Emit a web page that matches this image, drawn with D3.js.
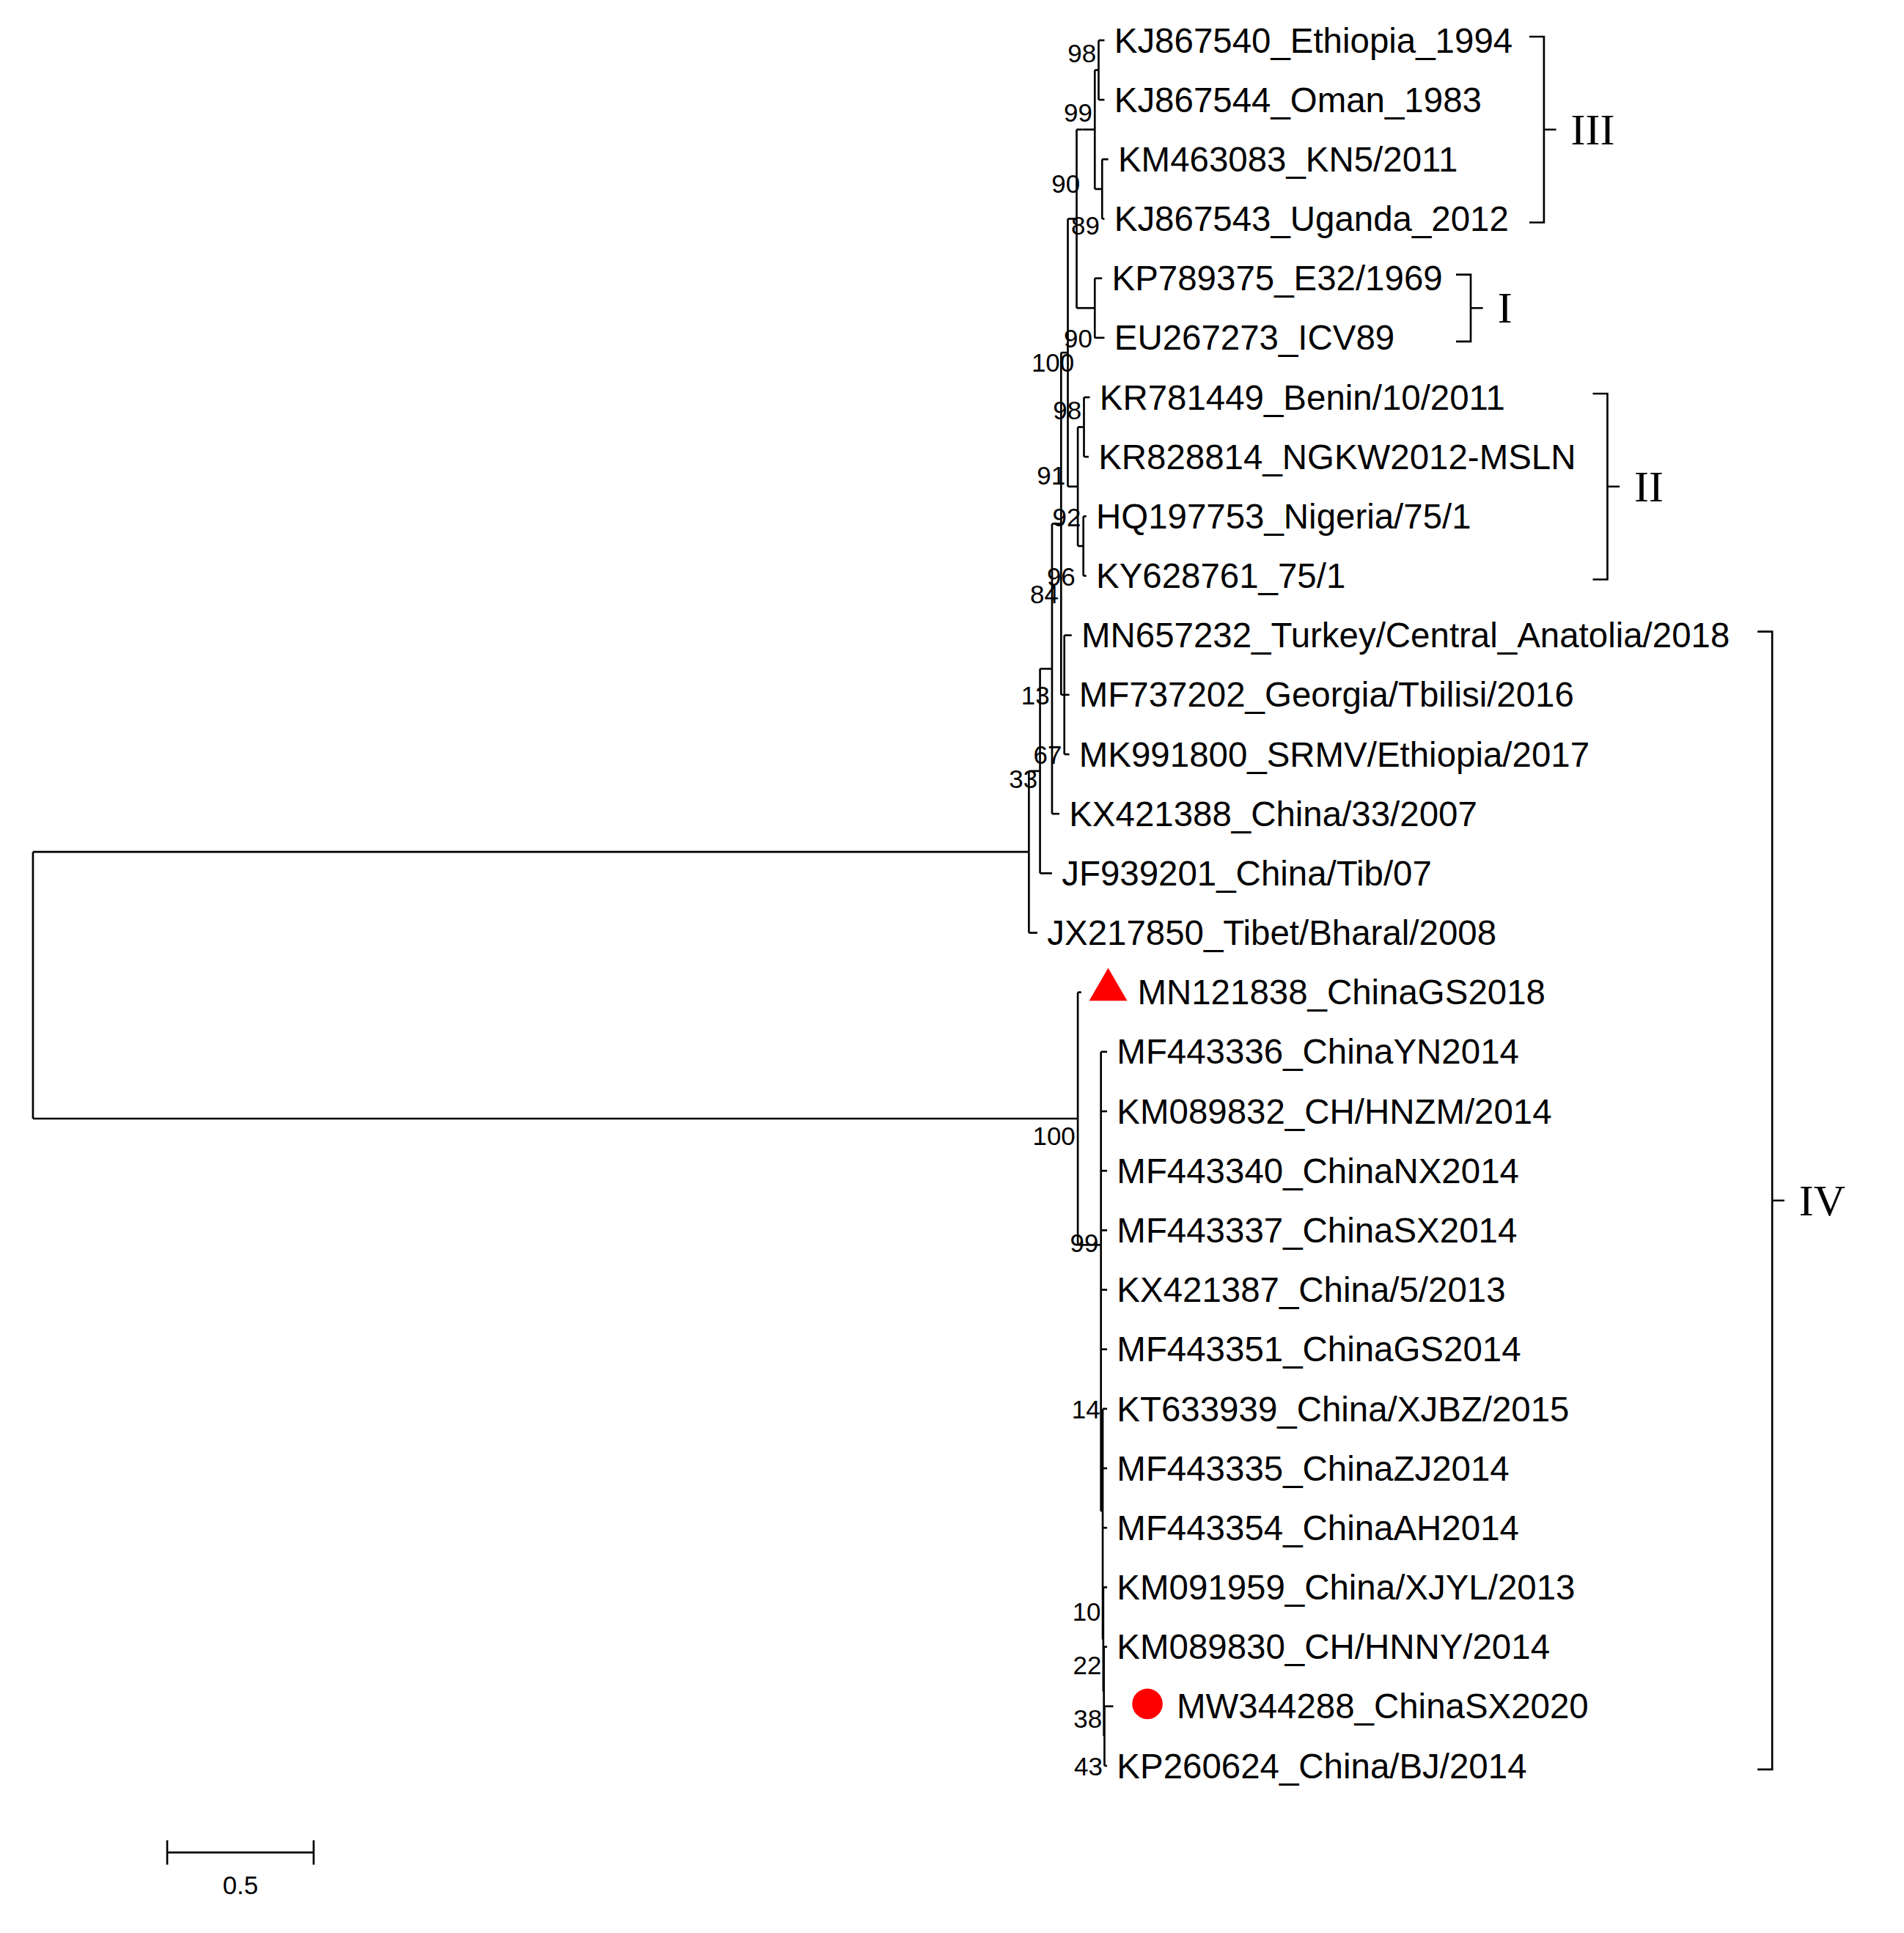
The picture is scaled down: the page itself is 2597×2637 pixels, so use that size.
<!DOCTYPE html>
<html>
<head>
<meta charset="utf-8">
<script src="https://cdn.jsdelivr.net/npm/d3@7"></script>
<style>
  body { margin: 0; background: #fff; }
  .branch { stroke: #000; stroke-width: 1.6; fill: none; }
  .leaf { font-family: "Liberation Sans", Arial, sans-serif; font-size: 28.5px; }
  .boot { font-family: "Liberation Sans", Arial, sans-serif; font-size: 21px; }
  .clade { font-family: "Liberation Serif", "Times New Roman", serif; font-size: 36px; }
</style>
</head>
<body>
<script>
// tree: node id, parent id, distance from root (substitutions/site), bootstrap
const nodeIds  = ["root","A","n33","n13","n84","n91","n100","n90","n99a","n98a","n89","nI","nII","n98b","n92","n67",
                  "B","n99b","n14","n10","n22","n38","n43"];
const nodeParents = ["","root","A","n33","n13","n84","n91","n100","n90","n99a","n99a","n100","n91","nII","nII","n84",
                  "root","B","n99b","n14","n10","n22","n38"];
const nodeDepth = [0,3.400,3.438,3.479,3.510,3.533,3.563,3.583,3.625,3.638,3.650,3.625,3.567,3.588,3.586,3.521,
                   3.567,3.646,3.652,3.654,3.656,3.658,3.660];
const nodeBoot = ["","","33","13","84","91","100","90","99","98","89","90","96","98","92","67",
                  "100","99","14","10","22","38","43"];
// row (in leaf units) beside which each bootstrap value is written
const nodeBootRow = [0,0,12.4,11,9.3,7.3,5.4,2.4,1.2,0.2,3.1,5,9,6.2,8,12,18.4,20.2,23,26.4,27.3,28.2,29];

const leafNames = ["KJ867540_Ethiopia_1994","KJ867544_Oman_1983","KM463083_KN5/2011","KJ867543_Uganda_2012",
  "KP789375_E32/1969","EU267273_ICV89","KR781449_Benin/10/2011","KR828814_NGKW2012-MSLN","HQ197753_Nigeria/75/1",
  "KY628761_75/1","MN657232_Turkey/Central_Anatolia/2018","MF737202_Georgia/Tbilisi/2016","MK991800_SRMV/Ethiopia/2017",
  "KX421388_China/33/2007","JF939201_China/Tib/07","JX217850_Tibet/Bharal/2008","MN121838_ChinaGS2018",
  "MF443336_ChinaYN2014","KM089832_CH/HNZM/2014","MF443340_ChinaNX2014","MF443337_ChinaSX2014","KX421387_China/5/2013",
  "MF443351_ChinaGS2014","KT633939_China/XJBZ/2015","MF443335_ChinaZJ2014","MF443354_ChinaAH2014",
  "KM091959_China/XJYL/2013","KM089830_CH/HNNY/2014","MW344288_ChinaSX2020","KP260624_China/BJ/2014"];
const leafParents = ["n98a","n98a","n89","n89","nI","nI","n98b","n98b","n92","n92","n67","n67","n67",
  "n13","n33","A","B","n99b","n99b","n99b","n99b","n99b","n99b","n14","n14","n14","n10","n22","n38","n43"];
const leafDepth = [3.658,3.658,3.671,3.658,3.650,3.658,3.608,3.604,3.596,3.596,3.546,3.538,3.538,
  3.504,3.479,3.429,3.579,3.667,3.667,3.667,3.667,3.667,3.667,3.667,3.667,3.667,3.667,3.667,3.688,3.667];
const leafMarker = {"MN121838_ChinaGS2018":"triangle","MW344288_ChinaSX2020":"circle"};

const clades = [
  {name:"III", from:"KJ867540_Ethiopia_1994", to:"KJ867543_Uganda_2012", x:1253},
  {name:"I",   from:"KP789375_E32/1969", to:"EU267273_ICV89", x:1193},
  {name:"II",  from:"KR781449_Benin/10/2011", to:"KY628761_75/1", x:1305},
  {name:"IV",  from:"MN657232_Turkey/Central_Anatolia/2018", to:"KP260624_China/BJ/2014", x:1440}
];
const scaleBarValue = 0.5;

const W = 1560, H = 1584;
const svg = d3.select("body").append("svg")
  .attr("width", 2597).attr("height", 2637)
  .attr("viewBox", `0 0 ${W} ${H}`);

const x = d3.scaleLinear().domain([0, 0.5]).range([27, 147]);
const y = d3.scalePoint().domain(leafNames).range([33, 1447]);
const rowY = r => 33 + r * y.step();

const rows = nodeIds.map((id,i) => ({id, parent: nodeParents[i], depth: nodeDepth[i], boot: nodeBoot[i], brow: nodeBootRow[i]}))
  .concat(leafNames.map((id,i) => ({id, parent: leafParents[i], depth: leafDepth[i], boot: ""})));
const root = d3.stratify().id(d => d.id).parentId(d => d.parent || null)(rows);

const order = new Map(leafNames.map((n,i) => [n,i]));
root.eachAfter(n => {
  if (!n.children) { n.py = y(n.id); n.ord = order.get(n.id); }
  else {
    n.children.sort((a,b) => a.ord - b.ord);
    n.ord = n.children[0].ord;
    n.py = d3.mean(n.children, c => c.py);
  }
  n.px = x(n.data.depth);
});

const g = svg.append("g");
root.descendants().forEach(n => {
  if (n.children) {
    const c0 = n.children[0], c1 = n.children[n.children.length-1];
    g.append("line").attr("class","branch")
      .attr("x1", n.px).attr("x2", n.px).attr("y1", Math.min(c0.py, n.py)).attr("y2", Math.max(c1.py, n.py));
    n.children.forEach(c => g.append("line").attr("class","branch")
      .attr("x1", n.px).attr("x2", c.px).attr("y1", c.py).attr("y2", c.py));
    if (n.data.boot) g.append("text").attr("class","boot")
      .attr("x", n.px - 2).attr("y", rowY(n.data.brow) + 8).attr("text-anchor","end").text(n.data.boot);
  } else {
    let lx = n.px + 8;
    const m = leafMarker[n.id];
    if (m === "triangle") {
      g.append("path").attr("d", d3.symbol(d3.symbolTriangle, 420)())
        .attr("transform", `translate(${lx + 14},${n.py - 2})`).attr("fill", "#ff0000");
      lx += 38;
    } else if (m === "circle") {
      g.append("circle").attr("cx", lx + 20).attr("cy", n.py - 2).attr("r", 12.5).attr("fill", "#ff0000");
      lx += 44;
    }
    g.append("text").attr("class","leaf").attr("x", lx).attr("y", n.py + 10).text(n.id);
  }
});

clades.forEach(c => {
  const y0 = y(c.from) - 3, y1 = y(c.to) + 3, ym = (y0 + y1) / 2, bx = c.x + 12;
  g.append("path").attr("class","branch")
    .attr("d", `M${c.x},${y0}H${bx}V${y1}H${c.x}M${bx},${ym}H${bx + 10}`);
  g.append("text").attr("class","clade").attr("x", bx + 22).attr("y", ym + 12).text(c.name);
});

// scale bar
const sb = d3.scaleLinear().domain([0, 0.5]).range([137, 257]);
const sg = svg.append("g");
sg.append("path").attr("class","branch")
  .attr("d", `M${sb(0)},1508V1528M${sb(0)},1518H${sb(scaleBarValue)}M${sb(scaleBarValue)},1508V1528`);
sg.append("text").attr("class","boot").attr("x", sb(scaleBarValue/2)).attr("y", 1552)
  .attr("text-anchor","middle").text(String(scaleBarValue));
</script>
</body>
</html>
